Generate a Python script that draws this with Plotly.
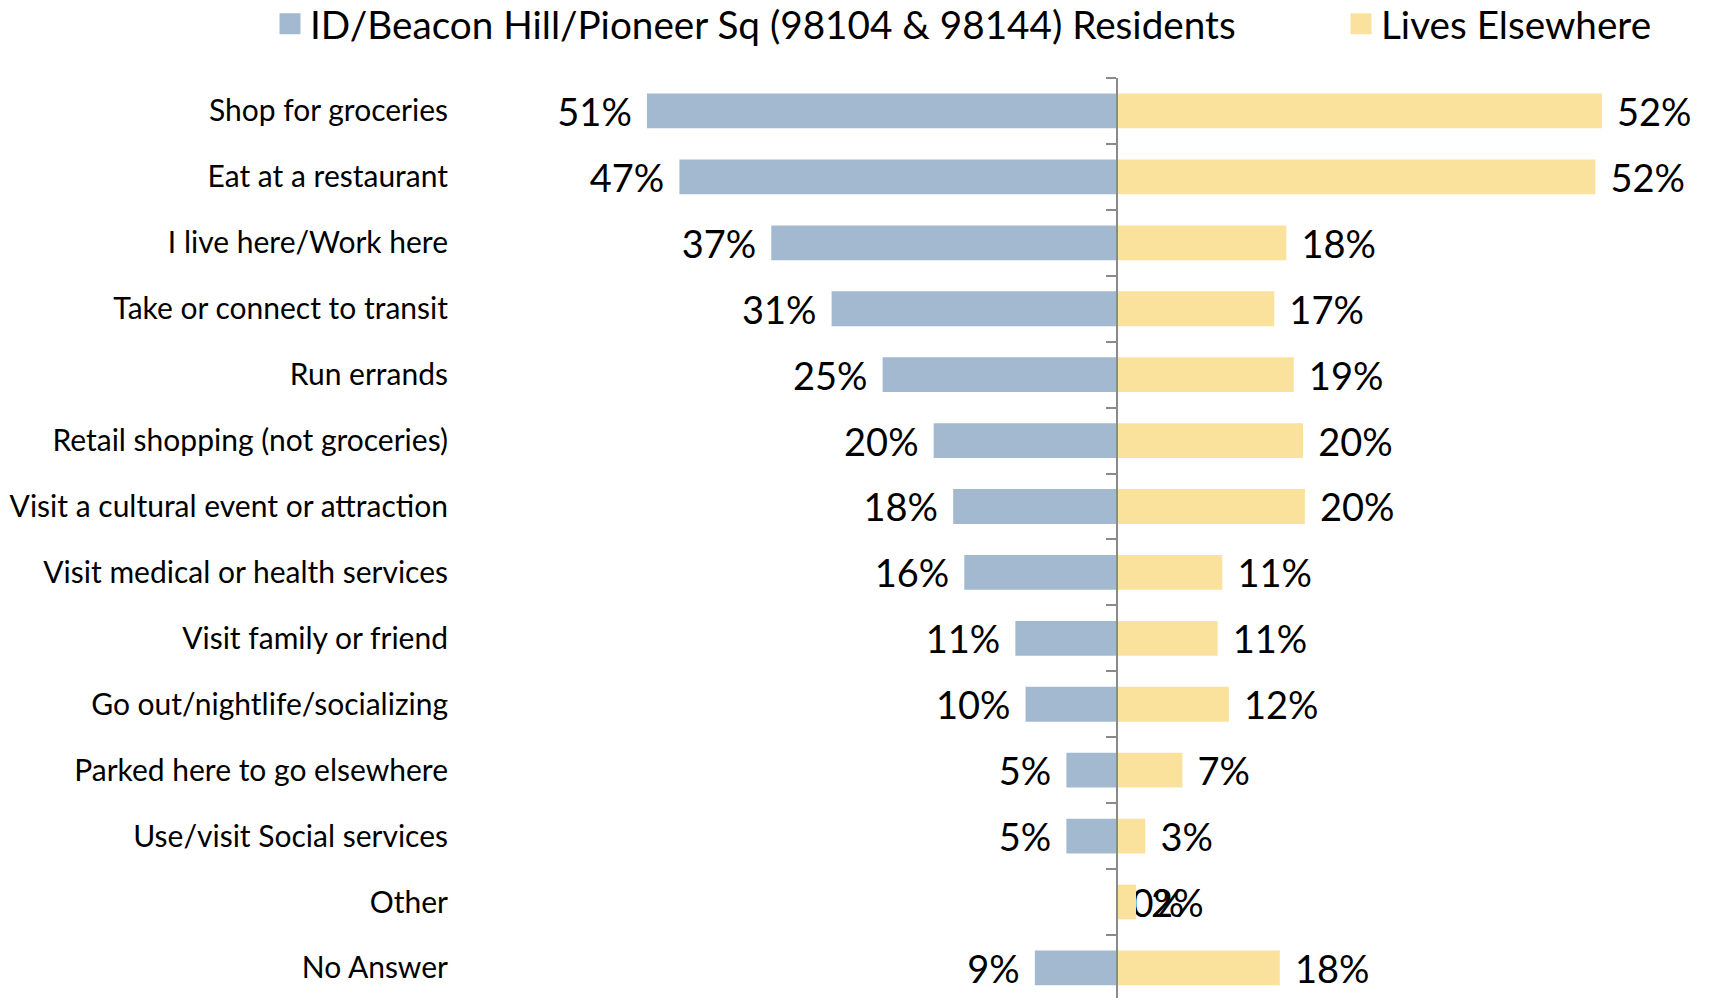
import plotly.graph_objects as go

categories = [
    "Shop for groceries",
    "Eat at a restaurant",
    "I live here/Work here",
    "Take or connect to transit",
    "Run errands",
    "Retail shopping (not groceries)",
    "Visit a cultural event or attraction",
    "Visit medical or health services",
    "Visit family or friend",
    "Go out/nightlife/socializing",
    "Parked here to go elsewhere",
    "Use/visit Social services",
    "Other",
    "No Answer",
]
# percent of respondents (labels are rounded)
residents = [50.6, 47.1, 37.2, 30.7, 25.2, 19.7, 17.6, 16.4, 10.9, 9.8, 5.4, 5.4, 0.0, 8.8]
elsewhere = [52.3, 51.6, 18.3, 17.0, 19.1, 20.1, 20.3, 11.4, 10.9, 12.1, 7.1, 3.1, 2.1, 17.6]

series_names = ["ID/Beacon Hill/Pioneer Sq (98104 & 98144) Residents", "Lives Elsewhere"]
BLUE = "#A3B9CF"
YELLOW = "#FAE29C"
FONT = "Lato, 'Open Sans', sans-serif"
PAD = "\u00a0\u200a"

def label_left(v):
    return (PAD + f"{round(v)}%") if v == 0 else (f"{round(v)}%" + PAD)

def label_right(v):
    return PAD + f"{round(v)}%"

# layout geometry (page body adds an 8px offset)
W, H = 1712, 998
OFF = 8
L, R, T, B = 460 - OFF, OFF, 78 - OFF, OFF
center_px = 1116.5 - OFF
px_per_pct = 9.28
xmin = -(center_px - L) / px_per_pct
xmax = (W - R - center_px) / px_per_pct
axis_pos = -xmin / (xmax - xmin)
yrange = [13.456, -0.5]
label_font = dict(family=FONT, size=38, color="black")

fig = go.Figure()
fig.add_trace(go.Bar(
    x=[-v for v in residents], y=categories, orientation="h", yaxis="y",
    marker=dict(color=BLUE, line=dict(width=0)),
    text=[label_left(v) for v in residents], textposition="outside",
    outsidetextfont=label_font, constraintext="none",
    textangle=0, cliponaxis=False, showlegend=False, name=series_names[0],
))
fig.add_trace(go.Bar(
    x=elsewhere, y=categories, orientation="h", yaxis="y2",
    marker=dict(color=YELLOW, line=dict(width=0)),
    text=[label_right(v) for v in elsewhere], textposition="outside",
    outsidetextfont=label_font, constraintext="none",
    textangle=0, cliponaxis=False, showlegend=False, name=series_names[1],
))
# legend entries (one legend box per series)
for nm, col, lg in zip(series_names, [BLUE, YELLOW], ["legend", "legend2"]):
    fig.add_trace(go.Scatter(
        x=[None], y=[None], mode="markers", name=nm, legend=lg,
        marker=dict(symbol="square", size=16, color=col, line=dict(color=col, width=5)),
    ))

legend_common = dict(
    orientation="h", xref="container", yref="container",
    xanchor="left", yanchor="middle", y=1 - 16 / H,
    font=dict(family=FONT, size=38.7, color="black"),
    itemsizing="trace", bgcolor="rgba(0,0,0,0)",
)

fig.update_layout(
    width=W, height=H,
    margin=dict(l=L, r=R, t=T, b=B, pad=0, autoexpand=False),
    paper_bgcolor="white", plot_bgcolor="white",
    barmode="overlay", bargap=0.472,
    font=dict(family=FONT, color="black"),
    xaxis=dict(range=[xmin, xmax], visible=False, fixedrange=True, automargin=False),
    yaxis=dict(
        type="category", categoryorder="array", categoryarray=categories,
        range=yrange, showline=False, ticks="", showgrid=False, zeroline=False,
        tickfont=dict(family=FONT, size=30, color="black"), ticklabelstandoff=11,
        automargin=False,
    ),
    yaxis2=dict(
        type="category", categoryorder="array", categoryarray=categories,
        range=yrange, overlaying="y", anchor="free", position=axis_pos, side="left",
        showline=True, linecolor="#8a8a8a", linewidth=1.5,
        ticks="outside", ticklen=10, tickcolor="#8a8a8a", tickwidth=1.5,
        tickson="boundaries", showticklabels=False, showgrid=False, zeroline=False,
        automargin=False,
    ),
    legend=dict(legend_common, x=262 / W),
    legend2=dict(legend_common, x=1333 / W),
    showlegend=True,
)

fig.write_html("out.html")
